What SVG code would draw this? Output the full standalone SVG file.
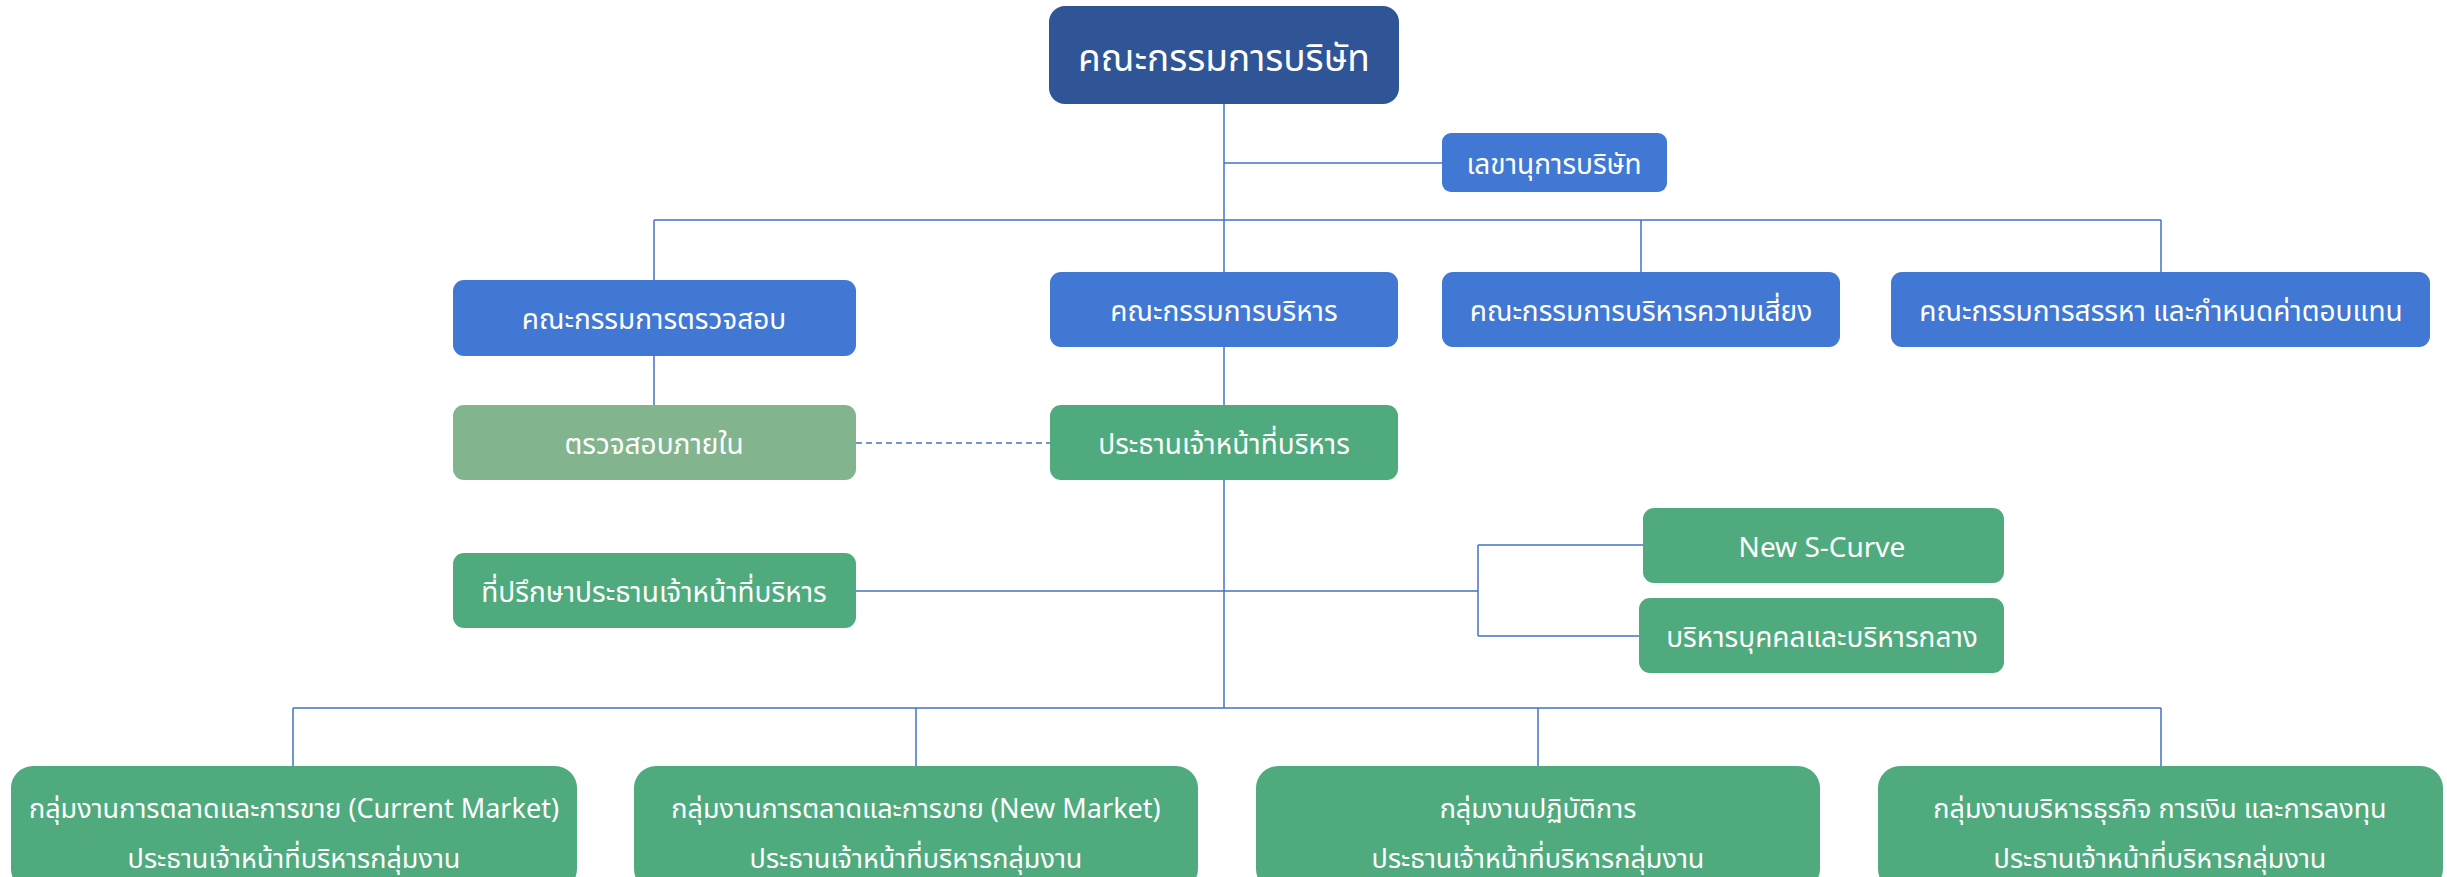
<svg xmlns="http://www.w3.org/2000/svg" width="2447" height="877" viewBox="0 0 2447 877">
<style>
.t{font-family:"Noto Sans","Noto Sans Thai","DejaVu Sans",sans-serif;fill:#fff;text-anchor:middle;dominant-baseline:central}
.m{font-size:28px}
.b{font-size:27px}
.blue{fill:#4178d4}
.green{fill:#4fab7d}
.ln{stroke:#4472c4;stroke-width:1.5;fill:none}
</style>
<rect width="2447" height="877" fill="#fff"/>
<g id="connectors">
<path class="ln" d="M1224 104V708"/>
<path class="ln" d="M1224 163H1442"/>
<path class="ln" d="M654 220H2161M654 220V405M1641 220V272M2161 220V272"/>
<path class="ln" d="M856 443H1050" stroke-dasharray="6 4"/>
<path class="ln" d="M856 591H1478M1478 545V636M1478 545H1643M1478 636H1639"/>
<path class="ln" d="M293 708H2161M293 708V766M916 708V766M1538 708V766M2161 708V766"/>
</g>
<g id="board"><rect x="1049" y="6" width="350" height="98" rx="16" fill="#2f5597"/><text class="t" x="1224" y="56" font-size="37">คณะกรรมการบริษัท</text></g>
<g id="secretary"><rect class="blue" x="1442" y="133" width="225" height="59" rx="9"/><text class="t m" x="1554" y="163">เลขานุการบริษัท</text></g>
<g id="audit-committee"><rect class="blue" x="453" y="280" width="403" height="76" rx="11"/><text class="t m" x="654" y="318">คณะกรรมการตรวจสอบ</text></g>
<g id="exec-committee"><rect class="blue" x="1050" y="272" width="348" height="75" rx="11"/><text class="t m" x="1224" y="310">คณะกรรมการบริหาร</text></g>
<g id="risk-committee"><rect class="blue" x="1442" y="272" width="398" height="75" rx="11"/><text class="t m" x="1641" y="310">คณะกรรมการบริหารความเสี่ยง</text></g>
<g id="nomination-committee"><rect class="blue" x="1891" y="272" width="539" height="75" rx="11"/><text class="t m" x="2161" y="310">คณะกรรมการสรรหา และกำหนดค่าตอบแทน</text></g>
<g id="internal-audit"><rect x="453" y="405" width="403" height="75" rx="11" fill="#82b48e"/><text class="t m" x="654" y="443">ตรวจสอบภายใน</text></g>
<g id="ceo"><rect class="green" x="1050" y="405" width="348" height="75" rx="11"/><text class="t m" x="1224" y="443">ประธานเจ้าหน้าที่บริหาร</text></g>
<g id="ceo-advisor"><rect class="green" x="453" y="553" width="403" height="75" rx="11"/><text class="t m" x="654" y="591">ที่ปรึกษาประธานเจ้าหน้าที่บริหาร</text></g>
<g id="new-s-curve"><rect class="green" x="1643" y="508" width="361" height="75" rx="11"/><text class="t m" x="1822" y="546">New S-Curve</text></g>
<g id="hr-admin"><rect class="green" x="1639" y="598" width="365" height="75" rx="11"/><text class="t m" x="1822" y="636">บริหารบุคคลและบริหารกลาง</text></g>
<g id="current-market"><rect class="green" x="11" y="766" width="566" height="125" rx="22"/><text class="t b" x="294" y="807">กลุ่มงานการตลาดและการขาย (Current Market)</text><text class="t b" x="294" y="857">ประธานเจ้าหน้าที่บริหารกลุ่มงาน</text></g>
<g id="new-market"><rect class="green" x="634" y="766" width="564" height="125" rx="22"/><text class="t b" x="916" y="807">กลุ่มงานการตลาดและการขาย (New Market)</text><text class="t b" x="916" y="857">ประธานเจ้าหน้าที่บริหารกลุ่มงาน</text></g>
<g id="operations"><rect class="green" x="1256" y="766" width="564" height="125" rx="22"/><text class="t b" x="1538" y="807">กลุ่มงานปฏิบัติการ</text><text class="t b" x="1538" y="857">ประธานเจ้าหน้าที่บริหารกลุ่มงาน</text></g>
<g id="finance"><rect class="green" x="1878" y="766" width="565" height="125" rx="22"/><text class="t b" x="2160" y="807">กลุ่มงานบริหารธุรกิจ การเงิน และการลงทุน</text><text class="t b" x="2160" y="857">ประธานเจ้าหน้าที่บริหารกลุ่มงาน</text></g>
</svg>
